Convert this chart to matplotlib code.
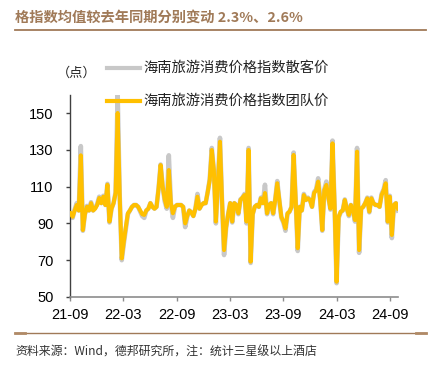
import matplotlib
matplotlib.use("Agg")
import matplotlib.pyplot as plt
import matplotlib.dates as mdates
from matplotlib.lines import Line2D
import pandas as pd

plt.rcParams['font.family'] = ['Noto Sans CJK SC', 'DejaVu Sans']

# weekly index values, Sep 2021 - Oct 2024
start_date = "2021-09-03"
team_price = [
    95.5, 93.6, 97, 100, 97, 127, 86.4, 95, 99, 97,
    101, 97, 98, 100, 103.8, 101, 104.5, 100, 111, 91,
    98, 101, 106.5, 150, 105, 71, 80, 88, 95.5, 97,
    99, 100, 100, 99, 97, 95, 94.6, 97, 98, 101,
    99, 98, 99, 109, 121.7, 110, 103, 99, 119, 101,
    95.5, 99, 100, 100, 100, 99, 90, 94, 97, 96,
    94, 98, 104.5, 98, 100, 101, 101, 107, 113.6, 129.9,
    119, 91, 111.8, 134.4, 102.7, 75.5, 88, 95, 101, 91,
    101, 100, 95.5, 102.7, 104, 105.4, 91, 129.9, 69.2, 95,
    99, 100, 99, 103.6, 101, 106.5, 95.5, 100, 101, 95.5,
    102.7, 111.8, 102.7, 93.6, 91, 87.3, 95.5, 96.4, 99, 127.2,
    102.7, 76.5, 99, 97, 105.4, 102.7, 103.6, 102.7, 99, 106.5,
    108, 112.7, 102.7, 86.4, 108, 110.9, 104, 98, 133.5, 100,
    58.3, 93.6, 96.4, 97, 102.7, 98, 94.6, 100, 97, 91.8,
    129, 75.5, 98, 99, 101, 103.6, 96.4, 103.6, 101, 100,
    100, 99, 105.4, 108, 111.8, 91, 104.5, 83.7, 100, 101,
    98,
]
individual_price = [
    95, 93, 97.5, 101, 97, 132, 86, 95, 99.5, 97,
    101.5, 97, 98.5, 100.5, 104.5, 101, 105, 100, 111.5, 90.5,
    98, 101, 107, 160, 105, 70, 79, 87, 95, 97,
    99, 100, 100, 99, 96.5, 94, 93, 97, 98, 101,
    99, 98, 99, 109, 122, 110, 102, 98, 127, 101,
    93, 99, 100, 100, 100, 99, 88, 93.5, 97, 96,
    94, 98, 106, 98, 100, 101, 101, 107, 114, 131,
    119, 90, 112, 136.5, 102, 72.8, 87.5, 95, 101, 90.5,
    101, 100, 95, 103, 104, 106, 90, 131, 68.5, 95,
    99, 100, 99, 104, 101, 111, 95, 100, 101, 95,
    103, 113, 102.5, 93, 90.5, 86, 95, 96.4, 99, 128.5,
    102.5, 75, 99, 97, 106, 102.7, 104, 102.7, 99, 107,
    108.5, 114.5, 102.5, 86, 108.5, 112.7, 104, 97.5, 135, 100,
    57.5, 93, 96, 97, 103, 98, 94, 100, 97, 91,
    131, 74, 98, 99, 101, 104, 96, 104, 101, 100,
    100, 99, 106, 108.5, 113.5, 90.5, 105, 82, 100, 101,
    97,
]
legend_labels = ["海南旅游消费价格指数散客价", "海南旅游消费价格指数团队价"]
y_ticks = [50, 70, 90, 110, 130, 150]
x_ticks = ["2021-09-01", "2022-03-01", "2022-09-01", "2023-03-01",
           "2023-09-01", "2024-03-01", "2024-09-01"]

dates = pd.date_range(start_date, periods=len(team_price), freq="7D")

fig = plt.figure(figsize=(4.34, 3.71), dpi=100)
ax = fig.add_axes([0.1613, 0.1995, 0.7557, 0.5455])

gray = "#C8C8C8"
gold = "#FFC000"
brown = "#A07A58"

ax.plot(dates, individual_price, color=gray, lw=3.3, solid_joinstyle="round", zorder=2)
ax.plot(dates, team_price, color=gold, lw=2.9, solid_joinstyle="round", zorder=3)

ax.set_ylim(50, 160)
ax.set_yticks(y_ticks)
ax.set_xlim(pd.Timestamp("2021-09-01"), dates[-1])
ax.set_xticks(pd.to_datetime(x_ticks))
ax.xaxis.set_major_formatter(mdates.DateFormatter("%y-%m"))

for s in ["top", "right"]:
    ax.spines[s].set_visible(False)
ax.spines["left"].set_color("#404040")
ax.spines["bottom"].set_color("#8C8C8C")
ax.spines["left"].set_linewidth(1.0)
ax.spines["bottom"].set_linewidth(1.2)
ax.tick_params(axis="y", direction="out", length=3, width=1, color="#404040", pad=9,
               labelsize=10.5, labelfontfamily="Liberation Sans")
ax.tick_params(axis="x", direction="out", length=3, width=1, color="#8C8C8C", pad=5,
               labelsize=10.5, labelfontfamily="Liberation Sans")

# title and frame lines
fig.text(15 / 434, 1 - 18 / 371, "格指数均值较去年同期分别变动 2.3%、2.6%",
         color=brown, fontsize=10.3, fontweight="bold", va="center", ha="left")
fig.add_artist(Line2D([15 / 434, 426 / 434], [1 - 29.5 / 371] * 2, color=brown, lw=1.3))
fig.add_artist(Line2D([15 / 434, 426 / 434], [1 - 333 / 371] * 2, color=brown, lw=1.0))
fig.add_artist(Line2D([15 / 434, 25 / 434], [1 - 332.5 / 371] * 2, color="#B08A66", lw=2.0))
fig.add_artist(Line2D([416 / 434, 426 / 434], [1 - 332.5 / 371] * 2, color="#B08A66", lw=2.0))

# unit and legend
fig.text(57 / 434, 1 - 73 / 371, "（点）", fontsize=9.5, color="#222222", va="center")
for yy, col, lbl in [(68, gray, legend_labels[0]), (101, gold, legend_labels[1])]:
    fig.add_artist(Line2D([107 / 434, 140 / 434], [1 - yy / 371] * 2, color=col, lw=3.0))
    fig.text(143 / 434, 1 - yy / 371, lbl, fontsize=10.3, color="#222222", va="center")

fig.text(15 / 434, 1 - 352 / 371, "资料来源：Wind，德邦研究所，注：统计三星级以上酒店",
         fontsize=8.6, color="#333333", va="center")

fig.savefig("out.png", dpi=100)
